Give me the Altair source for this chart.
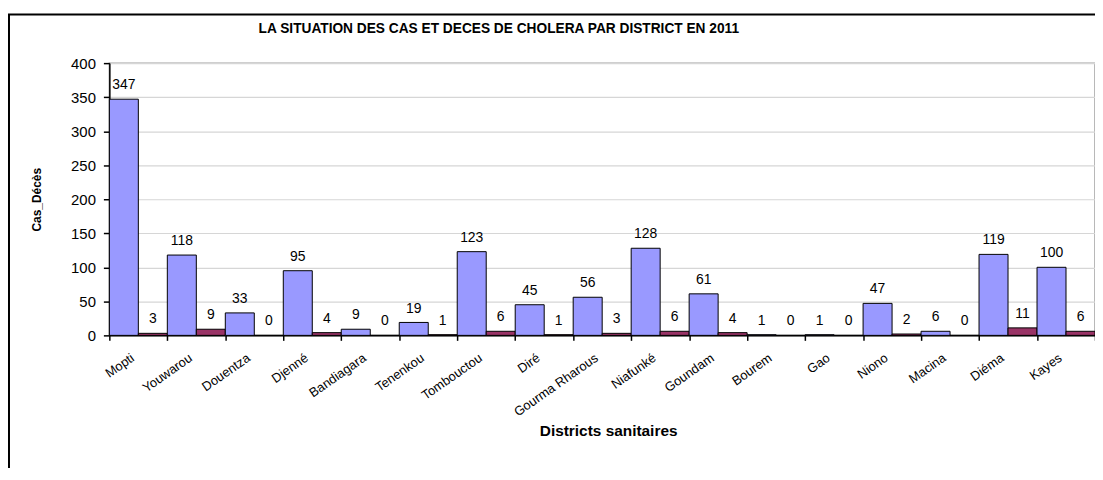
import altair as alt
import pandas as pd

districts = ["Mopti", "Youwarou", "Douentza", "Djenné", "Bandiagara", "Tenenkou",
             "Tombouctou", "Diré", "Gourma Rharous", "Niafunké", "Goundam", "Bourem",
             "Gao", "Niono", "Macina", "Diéma", "Kayes"]
cas = [347, 118, 33, 95, 9, 19, 123, 45, 56, 128, 61, 1, 1, 47, 6, 119, 100]
deces = [3, 9, 0, 4, 0, 1, 6, 1, 3, 6, 4, 0, 0, 2, 0, 11, 6]
series = ["Cas", "Décès"]
colors = ["#9999FF", "#993366"]
y_ticks = [0, 50, 100, 150, 200, 250, 300, 350, 400]

rows = []
for d, c, m in zip(districts, cas, deces):
    rows.append({"district": d, "serie": series[0], "valeur": c})
    rows.append({"district": d, "serie": series[1], "valeur": m})
df = pd.DataFrame(rows)

FONT = "Liberation Sans"
W, H = 992, 274

x_enc = alt.X(
    "district:N", sort=districts,
    scale=alt.Scale(paddingInner=0, paddingOuter=0),
    axis=alt.Axis(
        tickBand="extent", labelAngle=-35, labelAlign="right", labelBaseline="middle",
        labelOffset=-6, labelPadding=16, labelFontSize=13, labelOverlap=False,
        labelLimit=300, tickSize=5, tickWidth=1.5, domainWidth=1.5,
        title="Districts sanitaires", titleFontSize=15.5, titleFontWeight="bold",
        titleX=502, titleY=96, titleBaseline="middle", grid=False,
    ),
)
xo_enc = alt.XOffset("serie:N", sort=series, scale=alt.Scale(paddingInner=0, paddingOuter=0))
y_enc = alt.Y(
    "valeur:Q",
    scale=alt.Scale(domain=[0, 400], nice=False),
    axis=alt.Axis(
        values=y_ticks, tickCount=9, grid=True, gridColor="#d6d6d6", gridWidth=1.2,
        tickSize=6, tickWidth=1.5, domainWidth=1.5, labelPadding=8, labelFontSize=15,
        labelOverlap=False,
        title="Cas_Décès", titleFontSize=12, titleFontWeight="bold",
        titleX=-73, titleY=H / 2, titleBaseline="middle", titleAngle=270,
    ),
)

base = alt.Chart(df).encode(x=x_enc, xOffset=xo_enc, y=y_enc)

bars = base.mark_bar(stroke="black", strokeWidth=1).encode(
    color=alt.Color("serie:N", scale=alt.Scale(domain=series, range=colors), legend=None),
)

labels = base.mark_text(baseline="alphabetic", dy=-10, fontSize=14, color="black", font=FONT).encode(
    text=alt.Text("valeur:Q"),
)

frame = alt.Chart(alt.Data(values=[{"k": 1}])).mark_rect(
    fill="transparent", stroke="black", strokeWidth=2
).encode(
    x=alt.value(-101), x2=alt.value(W + 60), y=alt.value(-49), y2=alt.value(H + 300)
)

chart = alt.layer(bars, labels, frame).properties(
    width=W, height=H,
    autosize=alt.AutoSizeParams(type="none"),
    padding={"left": 102, "top": 54, "right": 0, "bottom": 132},
    title=alt.TitleParams(
        "LA SITUATION DES CAS ET DECES DE CHOLERA  PAR DISTRICT EN 2011",
        font=FONT, fontSize=13.8, fontWeight="bold", anchor="middle", dx=-104, dy=41, offset=19,
        color="black",
    ),
).configure(font=FONT).configure_view(
    stroke="#a0a0a0", strokeWidth=1.5
).configure_axis(
    labelFont=FONT, titleFont=FONT, labelColor="black", titleColor="black",
    domainColor="black", tickColor="black",
)

chart.save("out.html", embed_options={"renderer": "svg", "actions": False})
